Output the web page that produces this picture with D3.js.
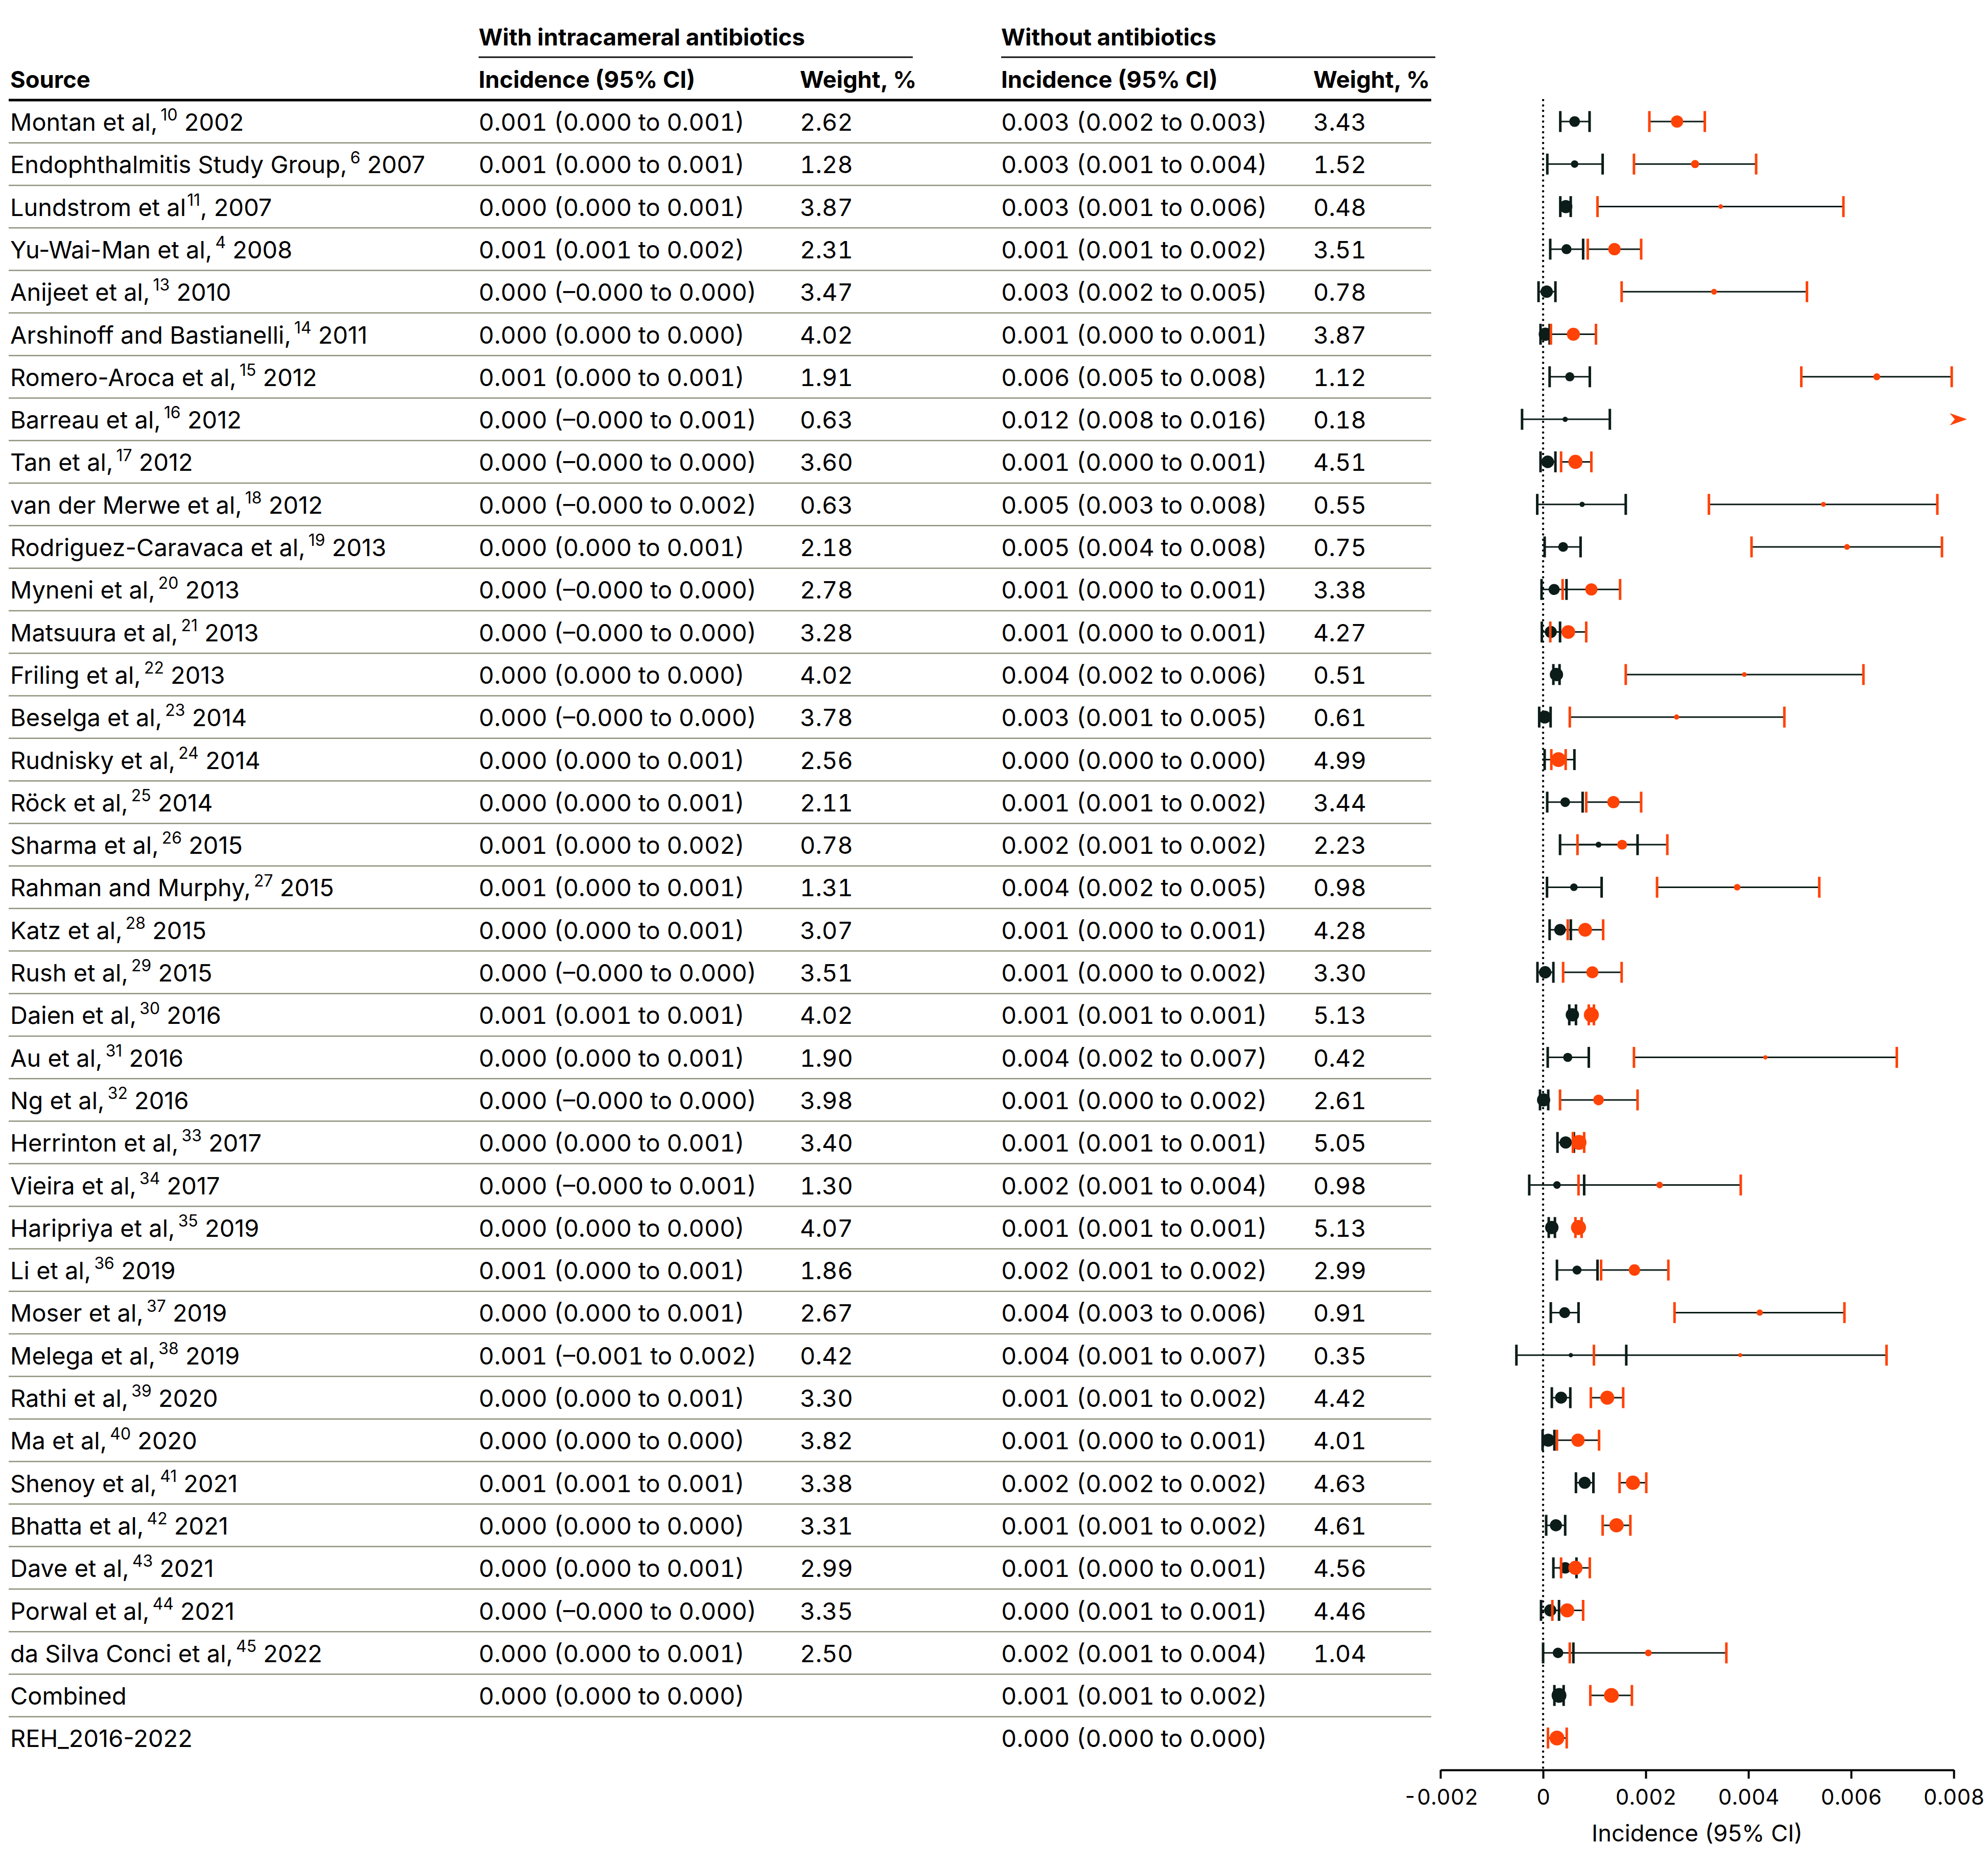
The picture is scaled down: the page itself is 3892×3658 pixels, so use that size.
<!DOCTYPE html>
<html>
<head>
<meta charset="utf-8">
<script src="https://cdn.jsdelivr.net/npm/d3@7"></script>
<style>
  html, body { margin: 0; padding: 0; background: #ffffff; }
  svg { display: block; }
  text { font-family: Inter, "Noto Sans", Roboto, sans-serif; fill: #000; }
  .tnum { font-variant-numeric: tabular-nums; font-feature-settings: "tnum" 1; }
</style>
</head>
<body>
<svg id="chart" width="3892" height="3658"></svg>
<script>
// ---------------- DATA ----------------
const sourceNames = [
  "Montan et al,", "Endophthalmitis Study Group,", "Lundstrom et al", "Yu-Wai-Man et al,", "Anijeet et al,",
  "Arshinoff and Bastianelli,", "Romero-Aroca et al,", "Barreau et al,", "Tan et al,", "van der Merwe et al,",
  "Rodriguez-Caravaca et al,", "Myneni et al,", "Matsuura et al,", "Friling et al,", "Beselga et al,",
  "Rudnisky et al,", "Röck et al,", "Sharma et al,", "Rahman and Murphy,", "Katz et al,",
  "Rush et al,", "Daien et al,", "Au et al,", "Ng et al,", "Herrinton et al,",
  "Vieira et al,", "Haripriya et al,", "Li et al,", "Moser et al,", "Melega et al,",
  "Rathi et al,", "Ma et al,", "Shenoy et al,", "Bhatta et al,", "Dave et al,",
  "Porwal et al,", "da Silva Conci et al,", "Combined", "REH_2016-2022"
];
const sourceRefs = [
  "10", "6", "11", "4", "13", "14", "15", "16", "17", "18",
  "19", "20", "21", "22", "23", "24", "25", "26", "27", "28",
  "29", "30", "31", "32", "33", "34", "35", "36", "37", "38",
  "39", "40", "41", "42", "43", "44", "45", "", ""
];
const sourceYears = [
  " 2002", " 2007", ", 2007", " 2008", " 2010", " 2011", " 2012", " 2012", " 2012", " 2012",
  " 2013", " 2013", " 2013", " 2013", " 2014", " 2014", " 2014", " 2015", " 2015", " 2015",
  " 2015", " 2016", " 2016", " 2016", " 2017", " 2017", " 2019", " 2019", " 2019", " 2019",
  " 2020", " 2020", " 2021", " 2021", " 2021", " 2021", " 2022", "", ""
];

// With intracameral antibiotics (table text)
const withText = [
  "0.001 (0.000 to 0.001)", "0.001 (0.000 to 0.001)", "0.000 (0.000 to 0.001)", "0.001 (0.001 to 0.002)", "0.000 (–0.000 to 0.000)",
  "0.000 (0.000 to 0.000)", "0.001 (0.000 to 0.001)", "0.000 (–0.000 to 0.001)", "0.000 (–0.000 to 0.000)", "0.000 (–0.000 to 0.002)",
  "0.000 (0.000 to 0.001)", "0.000 (–0.000 to 0.000)", "0.000 (–0.000 to 0.000)", "0.000 (0.000 to 0.000)", "0.000 (–0.000 to 0.000)",
  "0.000 (0.000 to 0.001)", "0.000 (0.000 to 0.001)", "0.001 (0.000 to 0.002)", "0.001 (0.000 to 0.001)", "0.000 (0.000 to 0.001)",
  "0.000 (–0.000 to 0.000)", "0.001 (0.001 to 0.001)", "0.000 (0.000 to 0.001)", "0.000 (–0.000 to 0.000)", "0.000 (0.000 to 0.001)",
  "0.000 (–0.000 to 0.001)", "0.000 (0.000 to 0.000)", "0.001 (0.000 to 0.001)", "0.000 (0.000 to 0.001)", "0.001 (–0.001 to 0.002)",
  "0.000 (0.000 to 0.001)", "0.000 (0.000 to 0.000)", "0.001 (0.001 to 0.001)", "0.000 (0.000 to 0.000)", "0.000 (0.000 to 0.001)",
  "0.000 (–0.000 to 0.000)", "0.000 (0.000 to 0.001)", "0.000 (0.000 to 0.000)", ""
];
const withWeightText = [
  "2.62", "1.28", "3.87", "2.31", "3.47", "4.02", "1.91", "0.63", "3.60", "0.63",
  "2.18", "2.78", "3.28", "4.02", "3.78", "2.56", "2.11", "0.78", "1.31", "3.07",
  "3.51", "4.02", "1.90", "3.98", "3.40", "1.30", "4.07", "1.86", "2.67", "0.42",
  "3.30", "3.82", "3.38", "3.31", "2.99", "3.35", "2.50", "", ""
];
// Without antibiotics (table text)
const withoutText = [
  "0.003 (0.002 to 0.003)", "0.003 (0.001 to 0.004)", "0.003 (0.001 to 0.006)", "0.001 (0.001 to 0.002)", "0.003 (0.002 to 0.005)",
  "0.001 (0.000 to 0.001)", "0.006 (0.005 to 0.008)", "0.012 (0.008 to 0.016)", "0.001 (0.000 to 0.001)", "0.005 (0.003 to 0.008)",
  "0.005 (0.004 to 0.008)", "0.001 (0.000 to 0.001)", "0.001 (0.000 to 0.001)", "0.004 (0.002 to 0.006)", "0.003 (0.001 to 0.005)",
  "0.000 (0.000 to 0.000)", "0.001 (0.001 to 0.002)", "0.002 (0.001 to 0.002)", "0.004 (0.002 to 0.005)", "0.001 (0.000 to 0.001)",
  "0.001 (0.000 to 0.002)", "0.001 (0.001 to 0.001)", "0.004 (0.002 to 0.007)", "0.001 (0.000 to 0.002)", "0.001 (0.001 to 0.001)",
  "0.002 (0.001 to 0.004)", "0.001 (0.001 to 0.001)", "0.002 (0.001 to 0.002)", "0.004 (0.003 to 0.006)", "0.004 (0.001 to 0.007)",
  "0.001 (0.001 to 0.002)", "0.001 (0.000 to 0.001)", "0.002 (0.002 to 0.002)", "0.001 (0.001 to 0.002)", "0.001 (0.000 to 0.001)",
  "0.000 (0.001 to 0.001)", "0.002 (0.001 to 0.004)", "0.001 (0.001 to 0.002)", "0.000 (0.000 to 0.000)"
];
const withoutWeightText = [
  "3.43", "1.52", "0.48", "3.51", "0.78", "3.87", "1.12", "0.18", "4.51", "0.55",
  "0.75", "3.38", "4.27", "0.51", "0.61", "4.99", "3.44", "2.23", "0.98", "4.28",
  "3.30", "5.13", "0.42", "2.61", "5.05", "0.98", "5.13", "2.99", "0.91", "0.35",
  "4.42", "4.01", "4.63", "4.61", "4.56", "4.46", "1.04", "", ""
];

// Plotted values (null = not plotted)
const withEst = [0.000614,0.000614,0.000443,0.000456,0.00007,0.000044,0.00052,0.00043,0.00009,0.00076,
  0.00039,0.000215,0.00015,0.00026,0.00003,0.00032,0.00043,0.00108,0.0006,0.00033,
  0.00004,0.00057,0.00048,0.00001,0.00044,0.00027,0.00017,0.00066,0.00042,0.00054,
  0.00035,0.0001,0.00081,0.00025,0.00043,0.00014,0.00029,0.00031,null];
const withLo = [0.000335,0.000082,0.000335,0.000139,-0.000089,-0.00005,0.000127,-0.00041,-0.00005,-0.000114,
  0.00003,-0.00003,-0.000025,0.0002,-0.000076,0.00003,0.00008,0.00033,0.000076,0.000127,
  -0.00011,0.00051,0.00009,-0.00006,0.00028,-0.00027,0.00011,0.00027,0.00015,-0.00052,
  0.00017,-0.00001,0.00064,0.00006,0.0002,-0.00004,0.0,0.00022,null];
const withHi = [0.000905,0.00116,0.000538,0.00078,0.00024,0.000127,0.00091,0.0013,0.00024,0.00161,
  0.00073,0.000456,0.00033,0.00032,0.000146,0.00061,0.00077,0.00184,0.00114,0.00054,
  0.0002,0.00064,0.00089,0.0001,0.0006,0.0008,0.00023,0.00106,0.00069,0.00162,
  0.00053,0.00022,0.00098,0.00043,0.00065,0.00031,0.00059,0.0004,null];
const withWeight = [2.62,1.28,3.87,2.31,3.47,4.02,1.91,0.63,3.60,0.63,
  2.18,2.78,3.28,4.02,3.78,2.56,2.11,0.78,1.31,3.07,
  3.51,4.02,1.90,3.98,3.40,1.30,4.07,1.86,2.67,0.42,
  3.30,3.82,3.38,3.31,2.99,3.35,2.50,null,null];

const withoutEst = [0.00261,0.00296,0.00346,0.00139,0.00333,0.00059,0.0065,0.012,0.00063,0.00546,
  0.00592,0.00094,0.00049,0.00392,0.0026,0.0003,0.00137,0.00154,0.00378,0.00082,
  0.00096,0.00094,0.00433,0.00108,0.0007,0.00227,0.00069,0.00178,0.00422,0.00384,
  0.00125,0.00068,0.00175,0.00143,0.00063,0.00047,0.00205,0.00133,0.00027];
const withoutLo = [0.00207,0.00177,0.00106,0.00087,0.00153,0.000152,0.00503,0.008,0.00035,0.00323,
  0.00406,0.00038,0.00014,0.00161,0.00052,0.00016,0.00084,0.00067,0.00222,0.00048,
  0.00039,0.00089,0.00177,0.00033,0.00058,0.00069,0.00063,0.00113,0.00256,0.00099,
  0.00093,0.00027,0.00149,0.00116,0.00035,0.00018,0.00052,0.00092,0.000095];
const withoutHi = [0.00315,0.00415,0.00585,0.00191,0.00514,0.00103,0.00796,0.016,0.00094,0.00768,
  0.00777,0.0015,0.00084,0.00624,0.0047,0.00044,0.00191,0.00242,0.00538,0.00117,
  0.00153,0.00099,0.00689,0.00184,0.0008,0.00385,0.00075,0.00244,0.00587,0.00669,
  0.00156,0.00109,0.00201,0.0017,0.00091,0.00078,0.00357,0.00173,0.00046];
const withoutWeight = [3.43,1.52,0.48,3.51,0.78,3.87,1.12,0.18,4.51,0.55,
  0.75,3.38,4.27,0.51,0.61,4.99,3.44,2.23,0.98,4.28,
  3.30,5.13,0.42,2.61,5.05,0.98,5.13,2.99,0.91,0.35,
  4.42,4.01,4.63,4.61,4.56,4.46,1.04,null,null];

const groupHeaders = ["With intracameral antibiotics", "Without antibiotics"];
const columnHeaders = ["Source", "Incidence (95% CI)", "Weight, %", "Incidence (95% CI)", "Weight, %"];
const axisTicks = [-0.002, 0, 0.002, 0.004, 0.006, 0.008];
const axisTitle = "Incidence (95% CI)";

// ---------------- LAYOUT ----------------
const DARK = "#0b1c19";
const ORANGE = "#ff4306";
const SEP = "#8d937c";

const svg = d3.select("#chart");
svg.append("rect").attr("width", 3892).attr("height", 3658).attr("fill", "#fff");

// pick font sizes so that sample strings match the reference widths
function fit(str, target, weight, cls) {
  const t = svg.append("text").attr("class", cls || null).attr("font-size", 100).attr("font-weight", weight || 400).text(str);
  const w = t.node().getComputedTextLength();
  t.remove();
  return 100 * target / w;
}
const FS_NUM = fit("0.001 (0.000 to 0.001)", 521, 400, "tnum");
const FS_HEAD = fit("With intracameral antibiotics", 639, 700);
const FS_TICK = fit("0.002", 120, 400, "tnum");
const FS_TITLE = fit(axisTitle, 413);
function fitSource(i, target) {
  const t = svg.append("text").attr("font-size", 100);
  t.append("tspan").text(sourceNames[i]);
  t.append("tspan").attr("font-size", 68).attr("dx", 6).text(sourceRefs[i]);
  t.append("tspan").text(sourceYears[i]);
  const w = t.node().getBBox().width;
  t.remove();
  return 100 * target / w;
}
const FS_SRC = Math.min(FS_NUM, fitSource(1, 813));

const n = sourceNames.length;
const y = d3.scalePoint().domain(d3.range(n)).range([238, 238 + 83.3 * (n - 1)]);
const x = d3.scaleLinear().domain([-0.002, 0.008]).range([2820, 3825]);
const axisY = 3466;

const colX = [20, 937, 1566, 1960, 2571];

// group headers
svg.append("text").attr("x", colX[1]).attr("y", 89).attr("font-size", FS_HEAD).attr("font-weight", 700).text(groupHeaders[0]);
svg.append("text").attr("x", colX[3]).attr("y", 89).attr("font-size", FS_HEAD).attr("font-weight", 700).text(groupHeaders[1]);
svg.append("line").attr("x1", colX[1]).attr("x2", 1787).attr("y1", 112).attr("y2", 112).attr("stroke", "#111").attr("stroke-width", 3);
svg.append("line").attr("x1", colX[3]).attr("x2", 2810).attr("y1", 112).attr("y2", 112).attr("stroke", "#111").attr("stroke-width", 3);

// column headers
svg.selectAll("text.colh").data(columnHeaders).join("text")
  .attr("class", "colh")
  .attr("x", (d, i) => colX[i]).attr("y", 172)
  .attr("font-size", FS_HEAD).attr("font-weight", 700).text(d => d);

svg.append("line").attr("x1", 17).attr("x2", 2802).attr("y1", 196).attr("y2", 196).attr("stroke", "#000").attr("stroke-width", 5);

// row separators (after each row except the last)
svg.selectAll("line.sep").data(d3.range(n - 1)).join("line")
  .attr("class", "sep")
  .attr("x1", 17).attr("x2", 2802)
  .attr("y1", i => y(i) + 41.65).attr("y2", i => y(i) + 41.65)
  .attr("stroke", SEP).attr("stroke-width", 2.5);

// source labels with superscripts
const src = svg.selectAll("text.src").data(d3.range(n)).join("text")
  .attr("class", "src").attr("x", colX[0]).attr("y", i => y(i) + 18).attr("font-size", FS_SRC);
src.append("tspan").text(i => sourceNames[i]);
src.append("tspan").attr("font-size", FS_SRC * 0.68).attr("dy", -FS_SRC * 0.42).attr("dx", i => sourceNames[i].endsWith(",") ? 6 : 2)
  .text(i => sourceRefs[i]);
src.append("tspan").attr("dy", FS_SRC * 0.42).text(i => sourceYears[i]);

function col(arr, cx) {
  svg.append("g").selectAll("text").data(arr).join("text")
    .attr("class", "tnum")
    .attr("x", cx).attr("y", (d, i) => y(i) + 18).attr("font-size", FS_NUM).text(d => d);
}
col(withText, colX[1]);
col(withWeightText, colX[2]);
col(withoutText, colX[3]);
col(withoutWeightText, colX[4]);

// zero reference line (dotted)
svg.append("line").attr("x1", x(0)).attr("x2", x(0)).attr("y1", 196).attr("y2", axisY)
  .attr("stroke", "#000").attr("stroke-width", 4.5).attr("stroke-linecap", "round").attr("stroke-dasharray", "0,10.5");

// axis
const axis = d3.axisBottom(x).tickValues(axisTicks).tickSize(17).tickSizeOuter(0)
  .tickFormat(d => d === 0 ? "0" : (d < 0 ? "-" : "") + d3.format(".3f")(Math.abs(d)));
const ag = svg.append("g").attr("transform", `translate(0,${axisY})`).call(axis);
ag.select(".domain").attr("stroke", "#000").attr("stroke-width", 4);
ag.selectAll(".tick line").attr("stroke", "#000").attr("stroke-width", 4);
ag.selectAll(".tick text").attr("class", "tnum").attr("font-size", FS_TICK).attr("font-family", null).attr("fill", "#000")
  .attr("y", 68).attr("dy", 0);
svg.append("text").attr("x", x(0.003)).attr("y", 3606).attr("text-anchor", "middle").attr("font-size", FS_TITLE).text(axisTitle);

// forest series
const radius = w => w == null ? 14.5 : 6.5 * Math.sqrt(w);
function series(est, lo, hi, wt, color) {
  const idx = d3.range(n).filter(i => est[i] != null && hi[i] <= 0.008);
  const g = svg.append("g");
  g.selectAll("line.ci").data(idx).join("line")
    .attr("x1", i => x(lo[i])).attr("x2", i => x(hi[i]))
    .attr("y1", i => y(i)).attr("y2", i => y(i))
    .attr("stroke", DARK).attr("stroke-width", 3);
  g.selectAll("line.capl").data(idx).join("line")
    .attr("x1", i => x(lo[i])).attr("x2", i => x(lo[i]))
    .attr("y1", i => y(i) - 20.5).attr("y2", i => y(i) + 20.5)
    .attr("stroke", color).attr("stroke-width", 5);
  g.selectAll("line.caph").data(idx).join("line")
    .attr("x1", i => x(hi[i])).attr("x2", i => x(hi[i]))
    .attr("y1", i => y(i) - 20.5).attr("y2", i => y(i) + 20.5)
    .attr("stroke", color).attr("stroke-width", 5);
  g.selectAll("circle").data(idx).join("circle")
    .attr("cx", i => x(est[i])).attr("cy", i => y(i))
    .attr("r", i => radius(wt[i])).attr("fill", color);
  // off-scale estimates: arrow at right edge
  const off = d3.range(n).filter(i => est[i] != null && lo[i] >= 0.008);
  g.selectAll("path.arrow").data(off).join("path")
    .attr("d", i => {
      const tx = x(0.008) + 26, cy = y(i);
      return `M${tx},${cy} L${tx - 34},${cy - 12} L${tx - 24},${cy} L${tx - 34},${cy + 12} Z`;
    })
    .attr("fill", color);
}
series(withEst, withLo, withHi, withWeight, DARK);
series(withoutEst, withoutLo, withoutHi, withoutWeight, ORANGE);
</script>
</body>
</html>
